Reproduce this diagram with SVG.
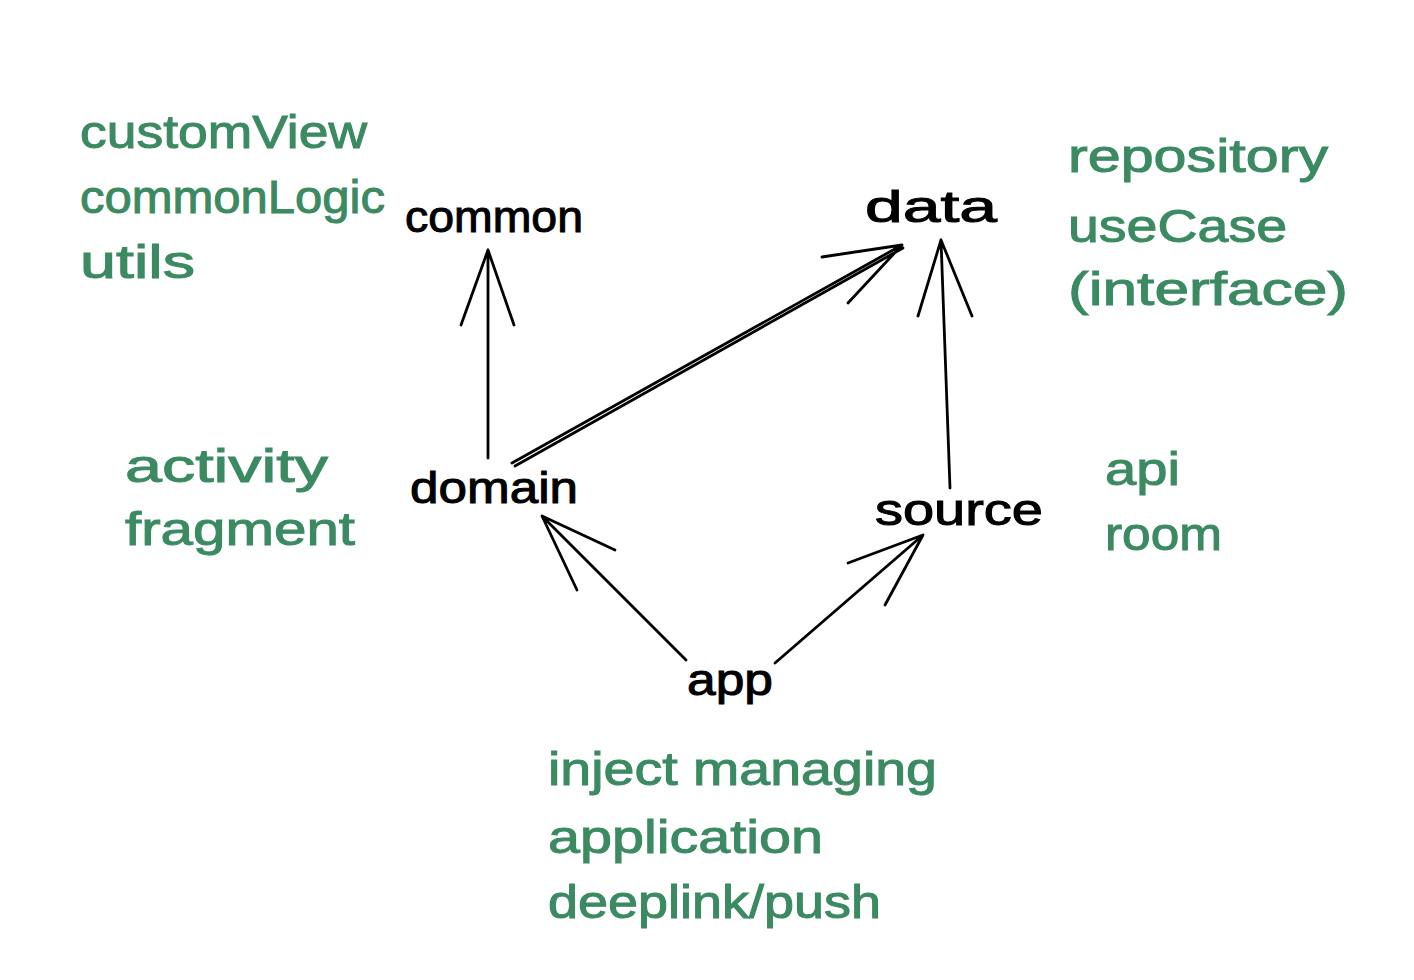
<svg xmlns="http://www.w3.org/2000/svg" width="1414" height="980" viewBox="0 0 1414 980">
<style>
.g{font-family:"Liberation Sans",Arial,sans-serif;font-size:46px;fill:#3b8a62;stroke:#3b8a62;stroke-width:1}
.n{font-family:"Liberation Sans",Arial,sans-serif;font-size:44px;fill:#000;stroke:#000;stroke-width:1}
.c{fill:none;stroke:#000;stroke-width:2.8;stroke-linecap:round;stroke-linejoin:round}
</style>
<rect width="1414" height="980" fill="#fff"/>
<g id="notes-common">
<text class="g" x="80" y="148" textLength="287" lengthAdjust="spacingAndGlyphs">customView</text>
<text class="g" x="80" y="213" textLength="305" lengthAdjust="spacingAndGlyphs">commonLogic</text>
<text class="g" x="80" y="278" textLength="115" lengthAdjust="spacingAndGlyphs">utils</text>
</g>
<g id="notes-data">
<text class="g" x="1068" y="172" textLength="260" lengthAdjust="spacingAndGlyphs">repository</text>
<text class="g" x="1068" y="242" textLength="219" lengthAdjust="spacingAndGlyphs">useCase</text>
<text class="g" x="1068" y="305" textLength="280" lengthAdjust="spacingAndGlyphs">(interface)</text>
</g>
<g id="notes-domain">
<text class="g" x="125" y="482" textLength="203" lengthAdjust="spacingAndGlyphs">activity</text>
<text class="g" x="125" y="545" textLength="230" lengthAdjust="spacingAndGlyphs">fragment</text>
</g>
<g id="notes-source">
<text class="g" x="1105" y="485" textLength="75" lengthAdjust="spacingAndGlyphs">api</text>
<text class="g" x="1105" y="550" textLength="117" lengthAdjust="spacingAndGlyphs">room</text>
</g>
<g id="notes-app">
<text class="g" x="548" y="785" textLength="389" lengthAdjust="spacingAndGlyphs">inject managing</text>
<text class="g" x="548" y="853" textLength="275" lengthAdjust="spacingAndGlyphs">application</text>
<text class="g" x="548" y="918" textLength="333" lengthAdjust="spacingAndGlyphs">deeplink/push</text>
</g>
<g id="common"><text class="n" x="405" y="232" textLength="178" lengthAdjust="spacingAndGlyphs">common</text></g>
<g id="data"><text class="n" x="865" y="222" textLength="132" lengthAdjust="spacingAndGlyphs">data</text></g>
<g id="domain"><text class="n" x="410" y="503" textLength="168" lengthAdjust="spacingAndGlyphs">domain</text></g>
<g id="source"><text class="n" x="875" y="525" textLength="168" lengthAdjust="spacingAndGlyphs">source</text></g>
<g id="app"><text class="n" x="687" y="695" textLength="86" lengthAdjust="spacingAndGlyphs">app</text></g>
<g id="connectors">
<path class="c" d="M488 458 L488 250 M461 325 L488 250 L514 325"/>
<path class="c" d="M512 463 L902 245 M515 466 L903 248 M822 257 L902 245 M848 303 L902 245"/>
<path class="c" d="M950 488 L941 240 M918 316 L941 240 L972 316"/>
<path class="c" d="M686 660 L542 516 M615 550 L542 516 L577 590"/>
<path class="c" d="M775 663 L923 535 M848 563 L923 535 L885 605"/>
</g>
</svg>
